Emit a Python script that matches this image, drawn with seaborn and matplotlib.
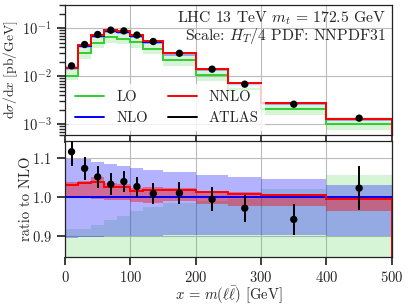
import numpy as np
import matplotlib
matplotlib.use("Agg")
import matplotlib.pyplot as plt
from matplotlib.lines import Line2D
import seaborn as sns

# ---- data ----
bins = [0, 20, 40, 60, 80, 100, 120, 150, 200, 250, 300, 400, 500]
centers = [10, 30, 50, 70, 90, 110, 135, 175, 225, 275, 350, 450]

nlo = [0.01468, 0.04255, 0.07034, 0.08809, 0.08462, 0.07011, 0.05233, 0.0297, 0.01408, 0.0070, 0.00276, 0.0013]
nlo_up_r = [1.097, 1.097, 1.091, 1.086, 1.081, 1.076, 1.069, 1.064, 1.058, 1.052, 1.046, 1.031]
nlo_dn_r = [0.895, 0.896, 0.897, 0.898, 0.899, 0.900, 0.900, 0.901, 0.902, 0.902, 0.902, 0.898]

nnlo_r = [1.030, 1.036, 1.040, 1.026, 1.026, 1.015, 1.018, 1.019, 1.012, 1.008, 1.005, 0.995]
nnlo_up_r = [1.039, 1.042, 1.053, 1.036, 1.034, 1.023, 1.026, 1.023, 1.016, 1.013, 1.009, 1.000]
nnlo_dn_r = [1.000, 0.997, 0.995, 0.993, 0.991, 0.987, 0.985, 0.990, 0.982, 0.978, 0.976, 0.965]

lo_r = [0.700, 0.698, 0.700, 0.727, 0.720, 0.727, 0.720, 0.747, 0.753, 0.753, 0.743, 0.760]
lo_up_r = [0.918, 0.918, 0.928, 0.940, 0.952, 0.963, 0.973, 0.985, 0.990, 0.995, 1.021, 1.056]
lo_dn_r = [0.57, 0.53, 0.55, 0.56, 0.56, 0.56, 0.56, 0.56, 0.56, 0.56, 0.56, 0.58]

data_r = [1.117, 1.074, 1.052, 1.033, 1.040, 1.027, 1.009, 1.010, 0.994, 0.971, 0.942, 1.023]
data_err_r = [0.036, 0.030, 0.029, 0.028, 0.028, 0.026, 0.028, 0.028, 0.031, 0.035, 0.041, 0.057]

# ---- style ----
sns.set_theme(style="ticks")
plt.rcParams["font.family"] = ["cmr10", "DejaVu Serif"]
plt.rcParams["mathtext.fontset"] = "cm"
plt.rcParams["axes.formatter.use_mathtext"] = True
plt.rcParams["axes.unicode_minus"] = False
FS = 10.5
FS_LAB = 9.8
FS_TXT = 11.3

nlo = np.array(nlo)
def absval(r):
    return nlo * np.array(r)

c_lo, c_nlo, c_nnlo = "#33cc33", "blue", "red"

fig = plt.figure(figsize=(4.09, 3.07), dpi=100)
ax1 = fig.add_axes([0.159, 0.560, 0.799, 0.424])
ax2 = fig.add_axes([0.159, 0.163, 0.799, 0.378])

for ax in (ax1, ax2):
    ax.grid(True, color="#bbbbbb", lw=0.8)
    ax.set_axisbelow(True)
    for s in ax.spines.values():
        s.set_color("#222222")
        s.set_linewidth(0.9)

# top panel
ax1.stairs(absval(lo_up_r), bins, baseline=absval(lo_dn_r), fill=True, color=c_lo, alpha=0.2, lw=0)
ax1.stairs(absval(nlo_up_r), bins, baseline=absval(nlo_dn_r), fill=True, color=c_nlo, alpha=0.3, lw=0)
ax1.stairs(absval(nnlo_up_r), bins, baseline=absval(nnlo_dn_r), fill=True, color=c_nnlo, alpha=0.4, lw=0)
ax1.stairs(absval(lo_r), bins, color=c_lo, lw=1.4)
ax1.stairs(nlo, bins, color=c_nlo, lw=1.4)
ax1.stairs(absval(nnlo_r), bins, color=c_nnlo, lw=1.4)
ax1.errorbar(centers, absval(data_r), yerr=absval(data_err_r), fmt="none", ecolor="black", lw=1.4, zorder=5)
sns.scatterplot(x=centers, y=absval(data_r), ax=ax1, color="black", s=28, edgecolor="none", zorder=6, legend=False)
ax1.set_yscale("log")
ax1.set_xlim(0, 500)
ax1.set_ylim(5.9e-4, 0.306)
ax1.set_xticks([0, 100, 200, 300, 400, 500])
ax1.tick_params(labelbottom=False, labelsize=FS)
ax1.set_ylabel(r"$\mathrm{d}\sigma/\mathrm{d}x$ [pb/GeV]", fontsize=FS_LAB)
ax1.yaxis.set_label_coords(-0.137, 0.5)
ax1.text(0.982, 0.965, "LHC 13 TeV $m_t\\,=\\,172.5$ GeV\nScale: $H_T/4$ PDF: NNPDF31",
         transform=ax1.transAxes, ha="right", va="top", fontsize=FS_TXT, linespacing=0.95)

handles = [Line2D([], [], color=c_lo, lw=1.4), Line2D([], [], color=c_nlo, lw=1.4),
           Line2D([], [], color=c_nnlo, lw=1.4), Line2D([], [], color="black", lw=1.4)]
ax1.legend(handles, ["LO", "NLO", "NNLO", "ATLAS"], ncol=2, loc="lower left", fontsize=FS,
           frameon=True, edgecolor="none", facecolor="white", framealpha=0.8,
           handlelength=2.0, columnspacing=1.4, borderaxespad=0.3)

# ratio panel
ax2.stairs(lo_up_r, bins, baseline=lo_dn_r, fill=True, color=c_lo, alpha=0.2, lw=0)
ax2.stairs(nlo_up_r, bins, baseline=nlo_dn_r, fill=True, color=c_nlo, alpha=0.3, lw=0)
ax2.stairs(nnlo_up_r, bins, baseline=nnlo_dn_r, fill=True, color=c_nnlo, alpha=0.4, lw=0)
ax2.stairs(lo_r, bins, color=c_lo, lw=1.4)
ax2.stairs(np.ones(len(nlo)), bins, color=c_nlo, lw=1.4)
ax2.stairs(nnlo_r, bins, color=c_nnlo, lw=1.4)
ax2.errorbar(centers, data_r, yerr=data_err_r, fmt="none", ecolor="black", lw=1.4, zorder=5)
sns.scatterplot(x=centers, y=data_r, ax=ax2, color="black", s=28, edgecolor="none", zorder=6, legend=False)
ax2.set_xlim(0, 500)
ax2.set_ylim(0.845, 1.145)
ax2.set_xticks([0, 100, 200, 300, 400, 500])
ax2.set_yticks([0.9, 1.0, 1.1])
ax2.tick_params(labelsize=FS)
ax2.set_ylabel("ratio to NLO", fontsize=FS)
ax2.yaxis.set_label_coords(-0.098, 0.5)
ax2.set_xlabel(r"$x\,=\,m(\ell\bar{\ell})$ [GeV]", fontsize=FS)
ax2.xaxis.set_label_coords(0.5, -0.24)

fig.savefig("out.png", dpi=100)
